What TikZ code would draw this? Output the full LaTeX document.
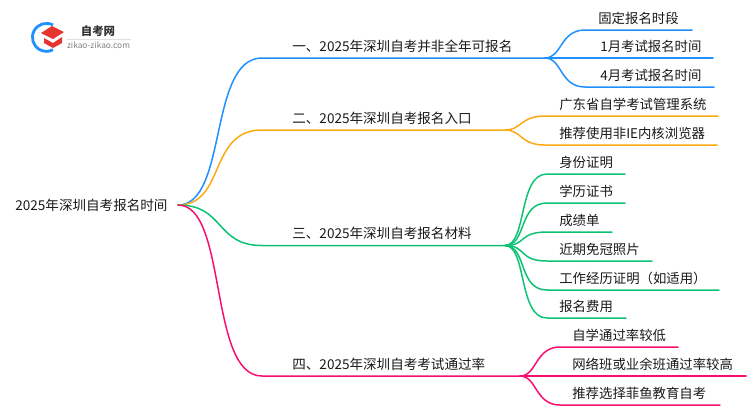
\documentclass[tikz,border=0pt]{standalone}
\usepackage{fontspec}
\setmainfont{Noto Sans CJK SC}
\definecolor{lineblue}{HTML}{1E90FF}
\definecolor{lineorange}{HTML}{FBAA14}
\definecolor{linegreen}{HTML}{0DC275}
\definecolor{linepink}{HTML}{F8106F}
\definecolor{capred}{HTML}{E5352D}
\tikzset{
	txt/.style={anchor=west,inner sep=0pt,text=black!90,font=\fontsize{7.72}{9}\selectfont},
	leaf/.style={txt,font=\fontsize{7.62}{9}\selectfont},
	branch/.style={line width=0.85pt,line cap=round}
}
\begin{document}
\begin{tikzpicture}[x=0.02cm,y=-0.02cm]
	\useasboundingbox (0,0) rectangle (750,410);
	% logo
	\draw[lineblue,line width=1.6pt] (53,25) arc (-62:-298:14);
	\fill[capred] (41,33) -- (52,26) -- (64,32) -- (53,39) -- cycle;
	\fill[capred] (44,38) -- (53,43) -- (62,37) -- (62,43) -- (53,48) -- (44,43) -- cycle;
	\node[inner sep=0pt,text=black!80,font=\fontsize{6.5}{8}\bfseries\selectfont] (logotitle) at (98,31) {自考网};
	\node[inner sep=0pt,text=black!50,font=\fontsize{4.75}{6}\selectfont] (logourl) at (98.5,45) {zikao-zikao.com};
	\coordinate (rulea) at (67,39);
	\coordinate (ruleb) at (131,39);
	\draw[black!12,line width=0.4pt] (rulea) -- (ruleb);
	% root
	\node[txt] (root) at (15,205) {2025年深圳自考报名时间};
	\coordinate (r0) at (178,205);
	% main branches
	\node[txt] (b1) at (292,46) {一、2025年深圳自考并非全年可报名};
	\node[txt] (b2) at (292,118) {二、2025年深圳自考报名入口};
	\node[txt] (b3) at (292,233.5) {三、2025年深圳自考报名材料};
	\node[txt] (b4) at (292,364) {四、2025年深圳自考考试通过率};
	\coordinate (j1) at (545,58);
	\coordinate (j2) at (505,130);
	\coordinate (j3) at (505,245.5);
	\coordinate (j4) at (520,376);
	\draw[branch,lineblue] (r0) .. controls (228,205) and (208,58) .. (262,58) -- (j1);
	\draw[branch,lineorange] (r0) .. controls (226,205) and (208,130) .. (262,130) -- (j2);
	\draw[branch,linegreen] (r0) .. controls (225,205) and (215,245.5) .. (262,245.5) -- (j3);
	\draw[branch,linepink] (r0) .. controls (228,205) and (208,376) .. (262,376) -- (j4);
	% leaves
	\foreach \name/\x/\y/\xe/\lab in {a/598/30/692/固定报名时段,b/600/58/713/1月考试报名时间,c/600/87/714/4月考试报名时间}{
		\node[leaf] (l1\name) at (\x,\y-12) {\lab};
		\coordinate (e1\name) at (\xe,\y);
		\draw[branch,lineblue] (j1) .. controls (562,58) and (560,\y) .. (585,\y) -- (e1\name);
	}
	\foreach \name/\y/\xe/\lab in {a/116/718/广东省自学考试管理系统,b/145/717/推荐使用非IE内核浏览器}{
		\node[leaf] (l2\name) at (559,\y-12) {\lab};
		\coordinate (e2\name) at (\xe,\y);
		\draw[branch,lineorange] (j2) .. controls (522,130) and (520,\y) .. (545,\y) -- (e2\name);
	}
	\foreach \name/\y/\xe/\lab in {a/174/625/身份证明,b/203/625/学历证书,c/232/612/成绩单,d/261/652/近期免冠照片,e/290/719/工作经历证明（如适用）,f/318/626/报名费用}{
		\node[leaf] (l3\name) at (559,\y-12) {\lab};
		\coordinate (e3\name) at (\xe,\y);
		\draw[branch,linegreen] (j3) .. controls (527,245.5) and (518,\y) .. (547,\y) -- (e3\name);
	}
	\foreach \name/\y/\xe/\lab in {a/347/678/自学通过率较低,b/376/746/网络班或业余班通过率较高,c/405/720/推荐选择菲鱼教育自考}{
		\node[leaf] (l4\name) at (572,\y-12) {\lab};
		\coordinate (e4\name) at (\xe,\y);
		\draw[branch,linepink] (j4) .. controls (537,376) and (535,\y) .. (560,\y) -- (e4\name);
	}
\end{tikzpicture}
\end{document}
